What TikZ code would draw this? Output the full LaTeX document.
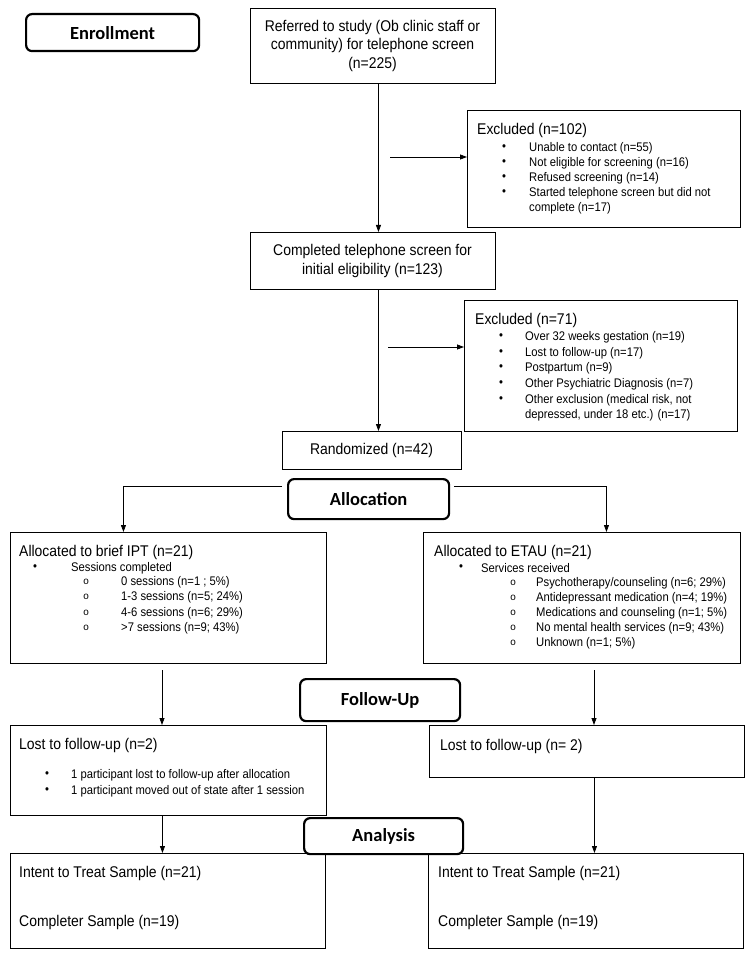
\documentclass[tikz,border=0pt]{standalone}
\usepackage{fontspec}
\setmainfont{Liberation Sans}[FakeStretch=0.9]
\newfontfamily\headfont{Carlito}
\newfontfamily\monofnt{Liberation Mono}
\usetikzlibrary{arrows.meta}
\tikzset{
  box/.style={draw, line width=0.9pt, fill=white, anchor=north west, inner sep=0pt},
  headbox/.style={draw, line width=2.2pt, rounded corners=6pt, fill=white, anchor=north west, inner sep=0pt, font=\headfont\bfseries\fontsize{18.5}{22}\selectfont},
  maintxt/.style={anchor=west, inner sep=0pt, font=\fontsize{15.5}{18}\selectfont},
  ctxt/.style={align=center, inner sep=0pt, font=\fontsize{15.5}{18.5}\selectfont},
  itemtxt/.style={anchor=west, inner sep=0pt, font=\fontsize{12.5}{15}\selectfont},
  circtxt/.style={anchor=west, inner sep=0pt, font=\monofnt\fontsize{10}{12}\selectfont},
  arr/.style={line width=0.8pt, -{Triangle[length=7pt,width=5pt]}},
  ln/.style={line width=0.8pt},
}
\begin{document}
\begin{tikzpicture}[x=1pt,y=-1pt]
\useasboundingbox[fill=white] (0,0) rectangle (751,957);

% boxes
\node[box, minimum width=245pt, minimum height=75pt] (ref) at (250,8) {};
\node[ctxt] (reftxt) at (372.5,45.5) {Referred to study (Ob clinic staff or\\community) for telephone screen\\(n=225)};

\node[box, minimum width=273pt, minimum height=117pt] (exc1) at (467,110) {};
\node[maintxt] (exc1h) at (477,130) {Excluded (n=102)};
\foreach \y/\t [count=\i] in {148/{Unable to contact (n=55)}, 163/{Not eligible for screening (n=16)}, 178/{Refused screening (n=14)}, 193/{Started telephone screen but did not}}{
  \node[itemtxt] (exc1b\i) at (502,\y) {•};
  \node[itemtxt] (exc1t\i) at (529,\y) {\t};
}
\node[itemtxt] (exc1t5) at (529,208) {complete (n=17)};

\node[box, minimum width=245pt, minimum height=57pt] (comp) at (250,232) {};
\node[ctxt] (comptxt) at (372.5,261) {Completed telephone screen for\\initial eligibility (n=123)};

\node[box, minimum width=273pt, minimum height=131pt] (exc2) at (464,300) {};
\node[maintxt] (exc2h) at (475,320) {Excluded (n=71)};
\foreach \y/\t [count=\i] in {337/{Over 32 weeks gestation (n=19)}, 353/{Lost to follow-up (n=17)}, 368/{Postpartum (n=9)}, 384/{Other Psychiatric Diagnosis (n=7)}, 400/{Other exclusion (medical risk, not}}{
  \node[itemtxt] (exc2b\i) at (499,\y) {•};
  \node[itemtxt] (exc2t\i) at (525,\y) {\t};
}
\node[itemtxt] (exc2t6) at (525,415) {depressed, under 18 etc.) (n=17)};

\node[box, minimum width=179pt, minimum height=38pt] (rand) at (282,431) {};
\node[ctxt] (randtxt) at (371.5,450) {Randomized (n=42)};

\node[box, minimum width=316pt, minimum height=131pt] (ipt) at (10,532) {};
\node[maintxt] (ipth) at (19,552) {Allocated to brief IPT (n=21)};
\node[itemtxt] (iptb) at (33,568) {•};
\node[itemtxt] (iptbt) at (71,568) {Sessions completed};
\foreach \y/\t [count=\i] in {582/{0 sessions (n=1 ; 5\%)}, 597/{1-3 sessions (n=5; 24\%)}, 613/{4-6 sessions (n=6; 29\%)}, 628/{>7 sessions (n=9; 43\%)}}{
  \node[circtxt] (iptc\i) at (83,\y) {o};
  \node[itemtxt] (iptt\i) at (121,\y) {\t};
}

\node[box, minimum width=317pt, minimum height=131pt] (etau) at (423,532) {};
\node[maintxt] (etauh) at (434,552) {Allocated to ETAU (n=21)};
\node[itemtxt] (etaub) at (459,568) {•};
\node[itemtxt] (etaubt) at (481,568) {Services received};
\foreach \y/\t [count=\i] in {583/{Psychotherapy/counseling (n=6; 29\%)}, 598/{Antidepressant medication (n=4; 19\%)}, 613/{Medications and counseling (n=1; 5\%)}, 628/{No mental health services (n=9; 43\%)}, 643/{Unknown (n=1; 5\%)}}{
  \node[circtxt] (etauc\i) at (510,\y) {o};
  \node[itemtxt] (etaut\i) at (536,\y) {\t};
}

\node[box, minimum width=316pt, minimum height=90pt] (lost1) at (10,725) {};
\node[maintxt] (lost1h) at (19,745) {Lost to follow-up (n=2)};
\node[itemtxt] (lost1b1) at (45,775) {•};
\node[itemtxt] (lost1t1) at (71,775) {1 participant lost to follow-up after allocation};
\node[itemtxt] (lost1b2) at (45,791) {•};
\node[itemtxt] (lost1t2) at (71,791) {1 participant moved out of state after 1 session};

\node[box, minimum width=315pt, minimum height=52pt] (lost2) at (429,725) {};
\node[maintxt] (lost2h) at (440,746) {Lost to follow-up (n= 2)};

\node[box, minimum width=315pt, minimum height=95pt] (itt1) at (10,853) {};
\node[maintxt] (itt1a) at (19,873) {Intent to Treat Sample (n=21)};
\node[maintxt] (itt1b) at (19,922) {Completer Sample (n=19)};

\node[box, minimum width=315pt, minimum height=95pt] (itt2) at (428,853) {};
\node[maintxt] (itt2a) at (438,873) {Intent to Treat Sample (n=21)};
\node[maintxt] (itt2b) at (438,922) {Completer Sample (n=19)};

% connectors
\draw[arr] ([xshift=5.5pt]ref.south) -- ([xshift=5.5pt]comp.north);
\coordinate (h1) at (390,157);
\draw[arr] (h1) -- (h1 -| exc1.west);
\draw[arr] ([xshift=5.5pt]comp.south) -- ([xshift=5.5pt]comp.south |- rand.north);
\coordinate (h2) at (388,347);
\draw[arr] (h2) -- (h2 -| exc2.west);
\coordinate (al) at (282,486);
\coordinate (ar) at (454,486);
\draw[arr] (al) -| ([xshift=-45pt]ipt.north);
\draw[arr] (ar) -| ([xshift=24.5pt]etau.north);
\coordinate (f1) at (162,670);
\coordinate (f2) at (594,670);
\draw[arr] (f1) -- (f1 |- lost1.north);
\draw[arr] (f2) -- (f2 |- lost2.north);
\draw[arr] ([xshift=-6pt]lost1.south) -- ([xshift=-6pt]lost1.south |- itt1.north);
\draw[arr] ([xshift=7.5pt]lost2.south) -- ([xshift=7.5pt]lost2.south |- itt2.north);

% stage headings
\node[headbox, minimum width=173pt, minimum height=37pt] (enroll) at (25,13) {Enrollment};
\node[headbox, minimum width=161pt, minimum height=40pt] (alloc) at (287,478) {Allocation};
\node[headbox, minimum width=160pt, minimum height=42pt] (follow) at (299,678) {Follow-Up};
\node[headbox, minimum width=159pt, minimum height=36pt] (anal) at (303,817) {Analysis};
\end{tikzpicture}
\end{document}
